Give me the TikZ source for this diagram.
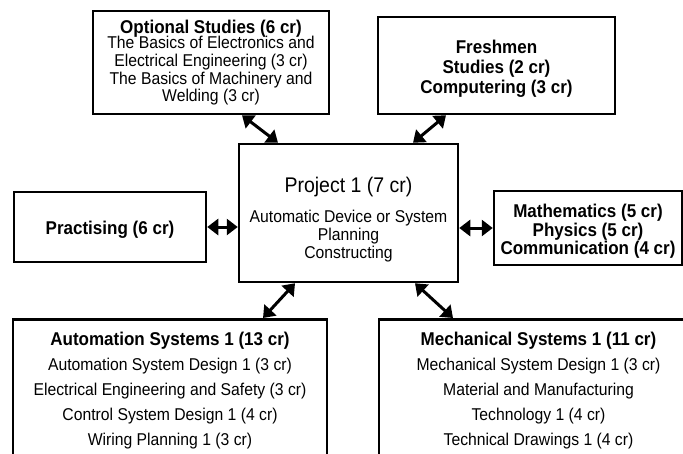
\documentclass[tikz,border=0pt]{standalone}
\usepackage{fontspec}
\setmainfont{Liberation Sans}[FakeStretch=0.92]
\usetikzlibrary{arrows.meta}

\begin{document}
\begin{tikzpicture}[x=1pt, y=-1pt,
  box/.style={draw=black, line width=2.5pt, fill=white, align=center, inner sep=3pt, font=\fontsize{17.1}{17.6}\selectfont},
  boldbox/.style={box, font=\bfseries\fontsize{18.5}{20}\selectfont},
  listbox/.style={box, anchor=north, minimum height=142pt, font=\fontsize{17.1}{25}\selectfont},
  arr/.style={{Triangle[length=11pt,width=16pt]}-{Triangle[length=11pt,width=16pt]}, line width=3pt}
]
\useasboundingbox (0,0) rectangle (683,453);
\node[box, minimum width=236pt, minimum height=103pt] (opt) at (211,62.5) {{\bfseries\fontsize{18.5}{20}\selectfont Optional Studies (6 cr)}\\[-2pt]The Basics of Electronics and\\Electrical Engineering (3 cr)\\The Basics of Machinery and\\Welding (3 cr)};
\node[boldbox, minimum width=237pt, minimum height=97pt] (fresh) at (496.5,65.5) {\rule{0pt}{20pt}Freshmen\\Studies (2 cr)\\Computering (3 cr)};
\node[box, minimum width=219pt, minimum height=138pt, font=\fontsize{17.1}{18}\selectfont] (proj) at (348.5,213) {\rule{0pt}{28pt}{\fontsize{21.2}{22}\selectfont Project 1 (7 cr)}\\[12pt]Automatic Device or System\\Planning\\Constructing};
\node[boldbox, minimum width=192pt, minimum height=70pt] (prac) at (110,227) {\rule{0pt}{19.5pt}Practising (6 cr)};
\node[boldbox, minimum width=188pt, minimum height=74pt, font=\bfseries\fontsize{18.5}{18.5}\selectfont] (math) at (588,228) {\rule{0pt}{20pt}Mathematics (5 cr)\\Physics (5 cr)\\Communication (4 cr)};
\node[listbox, minimum width=314pt] (auto) at (170,318) {{\bfseries\fontsize{18.5}{20}\selectfont Automation Systems 1 (13 cr)}\\Automation System Design 1 (3 cr)\\Electrical Engineering and Safety (3 cr)\\Control System Design 1 (4 cr)\\Wiring Planning 1 (3 cr)};
\node[listbox, minimum width=319pt] (mech) at (538.5,318) {{\bfseries\fontsize{18.5}{20}\selectfont Mechanical Systems 1 (11 cr)}\\Mechanical System Design 1 (3 cr)\\Material and Manufacturing\\Technology 1 (4 cr)\\Technical Drawings 1 (4 cr)};
\draw[arr] ([xshift=31pt]opt.south) -- ([xshift=-70.5pt]proj.north);
\draw[arr] ([xshift=-50.5pt]fresh.south) -- ([xshift=64.5pt]proj.north);
\draw[arr] (prac.east) -- (prac.east -| proj.west);
\draw[arr] (math.west -| proj.east) -- (math.west);
\draw[arr] ([xshift=-53.5pt]proj.south) -- ([xshift=93pt]auto.north);
\draw[arr] ([xshift=66.5pt]proj.south) -- ([xshift=-85.5pt]mech.north);
\end{tikzpicture}
\end{document}
